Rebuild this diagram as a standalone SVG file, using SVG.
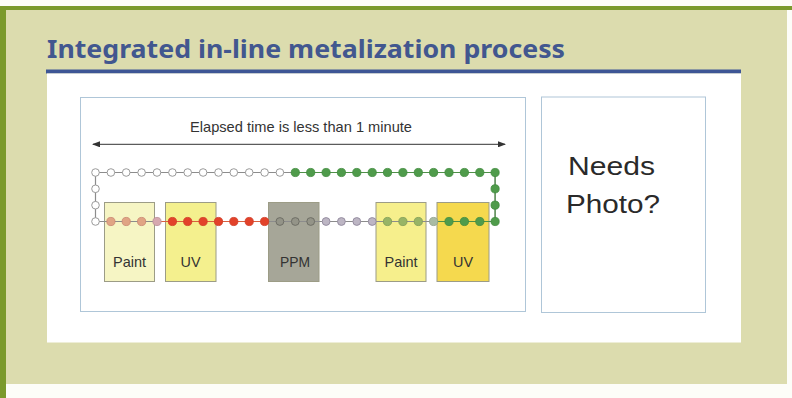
<svg xmlns="http://www.w3.org/2000/svg" width="792" height="398" viewBox="0 0 792 398">
  <defs>
    <marker id="arrowEnd" viewBox="0 0 8 6" refX="7" refY="3" markerWidth="8" markerHeight="6" markerUnits="userSpaceOnUse" orient="auto">
      <path d="M0,0 L8,3 L0,6 Z" fill="#333"/>
    </marker>
    <marker id="arrowStart" viewBox="0 0 8 6" refX="1" refY="3" markerWidth="8" markerHeight="6" markerUnits="userSpaceOnUse" orient="auto">
      <path d="M8,0 L0,3 L8,6 Z" fill="#333"/>
    </marker>
  </defs>
  <style>
    .title { font-family: "Noto Sans", "Open Sans", sans-serif; font-weight: 700; font-size: 25px; fill: #42578f; }
    .frame { fill: #ffffff; stroke: #afc6d8; stroke-width: 1; }
    .lbl { font-family: "Liberation Sans", Arial, sans-serif; font-size: 15px; fill: #333333; text-anchor: middle; }
    .big { font-family: "Liberation Sans", Arial, sans-serif; font-size: 26px; fill: #2a2a2a; }
    .station { stroke: #9c9c86; stroke-width: 1; }
    .track { fill: none; stroke: #8c8c8c; stroke-width: 1.2; }
    .d-open { fill: #ffffff; stroke: #9a9a9a; stroke-width: 1; }
    .d-green { fill: #4f9b4b; stroke: #3f8a3c; stroke-width: 0.8; }
    .d-red { fill: #e2422a; stroke: #cf3a24; stroke-width: 0.8; }
    .d-salmon { fill: #e0a484; stroke: #c98470; stroke-width: 0.8; }
    .d-pink { fill: #d6a8b0; stroke: #b88c96; stroke-width: 0.8; }
    .d-grey { fill: #949488; stroke: #6f6f66; stroke-width: 1; }
    .d-lav { fill: #bdb6c4; stroke: #978fa2; stroke-width: 1; }
    .d-olive { fill: #98b466; stroke: #7d9a55; stroke-width: 0.8; }
    .d-sage { fill: #a9bba4; stroke: #8ea08a; stroke-width: 0.8; }
  </style>

  <!-- page background and border -->
  <rect x="0" y="0" width="792" height="398" fill="#fdfdf8"/>
  <rect x="6" y="9" width="781" height="375" fill="#dcdcae"/>
  <rect x="0" y="6" width="792" height="4" fill="#7b9a2c"/>
  <rect x="0" y="6" width="6" height="392" fill="#7b9a2c"/>

  <!-- heading -->
  <text class="title" x="47" y="58" textLength="518" lengthAdjust="spacingAndGlyphs">Integrated in-line metalization process</text>
  <rect x="46" y="69.5" width="695" height="4" fill="#3e5695"/>
  <rect x="47" y="73.5" width="694" height="269" fill="#ffffff"/>

  <!-- process diagram frame -->
  <g id="process-frame">
    <rect class="frame" x="80.5" y="97.5" width="445" height="214"/>
    <text class="lbl" x="301" y="131.5" textLength="222" lengthAdjust="spacingAndGlyphs">Elapsed time is less than 1 minute</text>
  </g>

  <!-- photo placeholder -->
  <g id="photo-box">
    <rect class="frame" x="541.5" y="97" width="164" height="215.5"/>
    <text class="big" x="568" y="175" textLength="87" lengthAdjust="spacingAndGlyphs">Needs</text>
    <text class="big" x="566" y="212.5" textLength="94" lengthAdjust="spacingAndGlyphs">Photo?</text>
  </g>

  <!-- stations -->
  <g id="paint-1">
    <rect class="station" x="104.5" y="202.5" width="50" height="79" fill="#f6f5c4"/>
    <text class="lbl" x="129.5" y="267" textLength="33" lengthAdjust="spacingAndGlyphs">Paint</text>
  </g>
  <g id="uv-1">
    <rect class="station" x="165.5" y="202.5" width="50.5" height="79" fill="#f4f08e"/>
    <text class="lbl" x="190.5" y="267" textLength="20" lengthAdjust="spacingAndGlyphs">UV</text>
  </g>
  <g id="ppm">
    <rect class="station" x="268.5" y="202.5" width="50.5" height="79" fill="#a6a698" stroke="#86867a"/>
    <text class="lbl" x="295" y="267" textLength="30" lengthAdjust="spacingAndGlyphs">PPM</text>
  </g>
  <g id="paint-2">
    <rect class="station" x="376" y="202.5" width="50" height="79" fill="#f6ef8c"/>
    <text class="lbl" x="401" y="267" textLength="33" lengthAdjust="spacingAndGlyphs">Paint</text>
  </g>
  <g id="uv-2">
    <rect class="station" x="437" y="202.5" width="52" height="79" fill="#f5d94e"/>
    <text class="lbl" x="463" y="267" textLength="20" lengthAdjust="spacingAndGlyphs">UV</text>
  </g>

  <!-- connectors: timing arrow and conveyor loop -->
  <g id="connectors">
    <line x1="93" y1="144.3" x2="505" y2="144.3" stroke="#333" stroke-width="1" marker-start="url(#arrowStart)" marker-end="url(#arrowEnd)"/>
    <path class="track" d="M95.5,221.5 L95.5,172.5 L495.1,172.5 L495.1,221.5 Z"/>
    <path fill="none" stroke="#d9603e" stroke-width="1.2" d="M157,221.5 L264.6,221.5"/>
    <path fill="none" stroke="#4f8f48" stroke-width="1.2" d="M295.3,172.5 L495.1,172.5 L495.1,221.5 L433.6,221.5"/>
  </g>

  <!-- carriers on the conveyor -->
  <g id="carriers">
    <!-- top row: empty carriers, then coated -->
    <circle class="d-open" cx="95.5" cy="172.5" r="3.8"/>
    <circle class="d-open" cx="110.9" cy="172.5" r="3.8"/>
    <circle class="d-open" cx="126.2" cy="172.5" r="3.8"/>
    <circle class="d-open" cx="141.6" cy="172.5" r="3.8"/>
    <circle class="d-open" cx="157.0" cy="172.5" r="3.8"/>
    <circle class="d-open" cx="172.4" cy="172.5" r="3.8"/>
    <circle class="d-open" cx="187.7" cy="172.5" r="3.8"/>
    <circle class="d-open" cx="203.1" cy="172.5" r="3.8"/>
    <circle class="d-open" cx="218.5" cy="172.5" r="3.8"/>
    <circle class="d-open" cx="233.8" cy="172.5" r="3.8"/>
    <circle class="d-open" cx="249.2" cy="172.5" r="3.8"/>
    <circle class="d-open" cx="264.6" cy="172.5" r="3.8"/>
    <circle class="d-open" cx="279.9" cy="172.5" r="3.8"/>
    <circle class="d-green" cx="295.3" cy="172.5" r="4.1"/>
    <circle class="d-green" cx="310.7" cy="172.5" r="4.1"/>
    <circle class="d-green" cx="326.1" cy="172.5" r="4.1"/>
    <circle class="d-green" cx="341.4" cy="172.5" r="4.1"/>
    <circle class="d-green" cx="356.8" cy="172.5" r="4.1"/>
    <circle class="d-green" cx="372.2" cy="172.5" r="4.1"/>
    <circle class="d-green" cx="387.5" cy="172.5" r="4.1"/>
    <circle class="d-green" cx="402.9" cy="172.5" r="4.1"/>
    <circle class="d-green" cx="418.3" cy="172.5" r="4.1"/>
    <circle class="d-green" cx="433.6" cy="172.5" r="4.1"/>
    <circle class="d-green" cx="449.0" cy="172.5" r="4.1"/>
    <circle class="d-green" cx="464.4" cy="172.5" r="4.1"/>
    <circle class="d-green" cx="479.8" cy="172.5" r="4.1"/>
    <circle class="d-green" cx="495.1" cy="172.5" r="4.1"/>
    <!-- sides -->
    <circle class="d-open" cx="95.5" cy="188.8" r="3.8"/>
    <circle class="d-open" cx="95.5" cy="205.2" r="3.8"/>
    <circle class="d-green" cx="495.1" cy="188.8" r="4.1"/>
    <circle class="d-green" cx="495.1" cy="205.2" r="4.1"/>
    <!-- bottom row: through the stations -->
    <circle class="d-open" cx="95.5" cy="221.5" r="3.8"/>
    <circle class="d-salmon" cx="110.9" cy="221.5" r="4.1"/>
    <circle class="d-salmon" cx="126.2" cy="221.5" r="4.1"/>
    <circle class="d-salmon" cx="141.6" cy="221.5" r="4.1"/>
    <circle class="d-pink" cx="157.0" cy="221.5" r="4.1"/>
    <circle class="d-red" cx="172.4" cy="221.5" r="4.1"/>
    <circle class="d-red" cx="187.7" cy="221.5" r="4.1"/>
    <circle class="d-red" cx="203.1" cy="221.5" r="4.1"/>
    <circle class="d-red" cx="218.5" cy="221.5" r="4.1"/>
    <circle class="d-red" cx="233.8" cy="221.5" r="4.1"/>
    <circle class="d-red" cx="249.2" cy="221.5" r="4.1"/>
    <circle class="d-red" cx="264.6" cy="221.5" r="4.1"/>
    <circle class="d-grey" cx="279.9" cy="221.5" r="3.9"/>
    <circle class="d-grey" cx="295.3" cy="221.5" r="3.9"/>
    <circle class="d-grey" cx="310.7" cy="221.5" r="3.9"/>
    <circle class="d-lav" cx="326.1" cy="221.5" r="3.9"/>
    <circle class="d-lav" cx="341.4" cy="221.5" r="3.9"/>
    <circle class="d-lav" cx="356.8" cy="221.5" r="3.9"/>
    <circle class="d-lav" cx="372.2" cy="221.5" r="3.9"/>
    <circle class="d-olive" cx="387.5" cy="221.5" r="4.1"/>
    <circle class="d-olive" cx="402.9" cy="221.5" r="4.1"/>
    <circle class="d-olive" cx="418.3" cy="221.5" r="4.1"/>
    <circle class="d-sage" cx="433.6" cy="221.5" r="4.1"/>
    <circle class="d-green" cx="449.0" cy="221.5" r="4.1"/>
    <circle class="d-green" cx="464.4" cy="221.5" r="4.1"/>
    <circle class="d-green" cx="479.8" cy="221.5" r="4.1"/>
    <circle class="d-green" cx="495.1" cy="221.5" r="4.1"/>
  </g>
</svg>
